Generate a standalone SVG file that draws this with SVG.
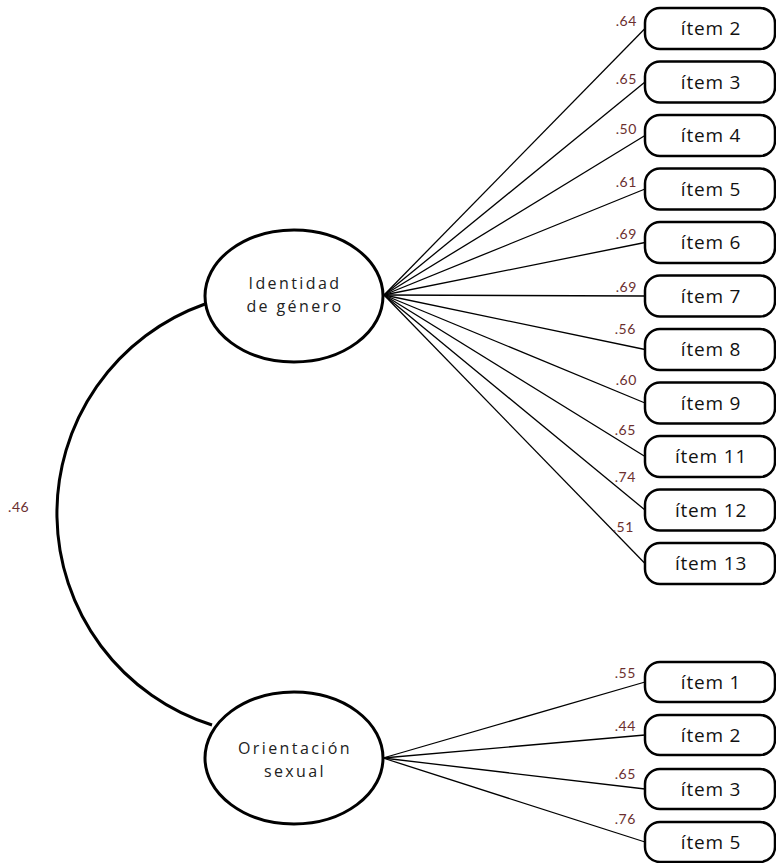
<svg xmlns="http://www.w3.org/2000/svg" width="776" height="863" viewBox="0 0 776 863">
<style>
.lat{fill:#fff;stroke:#000;stroke-width:3}
.box{fill:#fff;stroke:#000;stroke-width:2.5}
.lbl{font-family:"Open Sans","DejaVu Sans",sans-serif;font-size:19px;fill:#111;text-anchor:middle;letter-spacing:0.8px}
.nm{font-family:"Open Sans","DejaVu Sans",sans-serif;font-size:16px;fill:#222;text-anchor:middle;letter-spacing:2.4px}
.ld{font-family:Lato,"Open Sans",sans-serif;font-size:14px;fill:#6b2f2f;text-anchor:end;dominant-baseline:central;letter-spacing:0.6px}
.ln{stroke:#000;stroke-width:1.3;fill:none}
.cov{stroke:#000;stroke-width:3;fill:none}
</style>
<rect width="776" height="863" fill="#fff"/>
<g id="connectors">
<path class="cov" d="M205,304 A222,222 0 0 0 212,725"/>
<line class="ln" x1="384" y1="295" x2="645" y2="28.5"/>
<line class="ln" x1="384" y1="295" x2="645" y2="82"/>
<line class="ln" x1="384" y1="295" x2="645" y2="135.5"/>
<line class="ln" x1="384" y1="295" x2="645" y2="189"/>
<line class="ln" x1="384" y1="295" x2="645" y2="242.5"/>
<line class="ln" x1="384" y1="295" x2="645" y2="296"/>
<line class="ln" x1="384" y1="295" x2="645" y2="349.5"/>
<line class="ln" x1="384" y1="295" x2="645" y2="403"/>
<line class="ln" x1="384" y1="295" x2="645" y2="456.5"/>
<line class="ln" x1="384" y1="295" x2="645" y2="510"/>
<line class="ln" x1="384" y1="295" x2="645" y2="563.5"/>
<line class="ln" x1="383" y1="758" x2="645" y2="682"/>
<line class="ln" x1="383" y1="758" x2="645" y2="735"/>
<line class="ln" x1="383" y1="758" x2="645" y2="789"/>
<line class="ln" x1="383" y1="758" x2="645" y2="842"/>
</g>
<g id="loadings">
<text class="ld" x="8" y="506" style="text-anchor:start">.46</text>
<text class="ld" x="637" y="20">.64</text>
<text class="ld" x="637" y="78">.65</text>
<text class="ld" x="637" y="128">.50</text>
<text class="ld" x="637" y="181">.61</text>
<text class="ld" x="637" y="233">.69</text>
<text class="ld" x="637" y="286">.69</text>
<text class="ld" x="636" y="328">.56</text>
<text class="ld" x="637" y="379">.60</text>
<text class="ld" x="636" y="429">.65</text>
<text class="ld" x="636" y="476">.74</text>
<text class="ld" x="634" y="526">.51</text>
<text class="ld" x="636" y="672">.55</text>
<text class="ld" x="636" y="725">.44</text>
<text class="ld" x="636" y="773">.65</text>
<text class="ld" x="636" y="818">.76</text>
</g>
<g id="identidad">
<ellipse class="lat" cx="294" cy="296" rx="89" ry="66"/>
<text class="nm" x="295" y="289">Identidad</text>
<text class="nm" x="295" y="312">de género</text>
</g>
<g id="orientacion">
<ellipse class="lat" cx="294" cy="758" rx="89" ry="66"/>
<text class="nm" x="295" y="754">Orientación</text>
<text class="nm" x="295" y="777">sexual</text>
</g>
<g id="ig2"><rect class="box" x="645" y="8" width="130" height="41" rx="15"/><text class="lbl" x="711" y="35">ítem 2</text></g>
<g id="ig3"><rect class="box" x="645" y="61.5" width="130" height="41" rx="15"/><text class="lbl" x="711" y="88.5">ítem 3</text></g>
<g id="ig4"><rect class="box" x="645" y="115" width="130" height="41" rx="15"/><text class="lbl" x="711" y="142">ítem 4</text></g>
<g id="ig5"><rect class="box" x="645" y="168.5" width="130" height="41" rx="15"/><text class="lbl" x="711" y="195.5">ítem 5</text></g>
<g id="ig6"><rect class="box" x="645" y="222" width="130" height="41" rx="15"/><text class="lbl" x="711" y="249">ítem 6</text></g>
<g id="ig7"><rect class="box" x="645" y="275.5" width="130" height="41" rx="15"/><text class="lbl" x="711" y="302.5">ítem 7</text></g>
<g id="ig8"><rect class="box" x="645" y="329" width="130" height="41" rx="15"/><text class="lbl" x="711" y="356">ítem 8</text></g>
<g id="ig9"><rect class="box" x="645" y="382.5" width="130" height="41" rx="15"/><text class="lbl" x="711" y="409.5">ítem 9</text></g>
<g id="ig11"><rect class="box" x="645" y="436" width="130" height="41" rx="15"/><text class="lbl" x="711" y="463">ítem 11</text></g>
<g id="ig12"><rect class="box" x="645" y="489.5" width="130" height="41" rx="15"/><text class="lbl" x="711" y="516.5">ítem 12</text></g>
<g id="ig13"><rect class="box" x="645" y="543" width="130" height="41" rx="15"/><text class="lbl" x="711" y="570">ítem 13</text></g>
<g id="os1"><rect class="box" x="645" y="662" width="130" height="40" rx="15"/><text class="lbl" x="711" y="689">ítem 1</text></g>
<g id="os2"><rect class="box" x="645" y="715" width="130" height="40" rx="15"/><text class="lbl" x="711" y="742">ítem 2</text></g>
<g id="os3"><rect class="box" x="645" y="769" width="130" height="40" rx="15"/><text class="lbl" x="711" y="796">ítem 3</text></g>
<g id="os5"><rect class="box" x="645" y="822" width="130" height="40" rx="15"/><text class="lbl" x="711" y="849">ítem 5</text></g>
</svg>
